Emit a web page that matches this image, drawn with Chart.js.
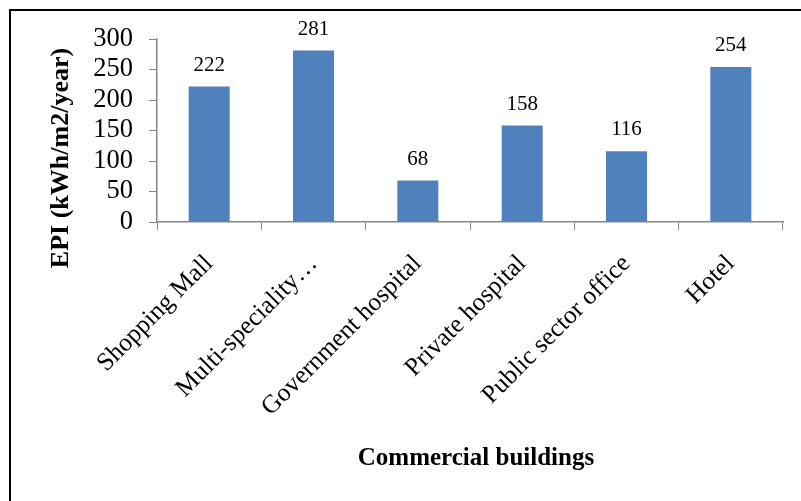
<!DOCTYPE html>
<html>
<head>
<meta charset="utf-8">
<script src="https://cdn.jsdelivr.net/npm/chart.js@4"></script>
<style>
  html, body { margin: 0; padding: 0; background: #ffffff; }
  canvas { display: block; }
</style>
</head>
<body>
<canvas id="chart" width="801" height="501"></canvas>
<script>
// Energy performance index of commercial building types
const categories = ['Shopping Mall', 'Multi-speciality…', 'Government hospital', 'Private hospital', 'Public sector office', 'Hotel'];
const epiValues = [222, 281, 68, 158, 116, 254];
const yTickValues = [0, 50, 100, 150, 200, 250, 300];
const yAxisTitle = 'EPI (kWh/m2/year)';
const xAxisTitle = 'Commercial buildings';

const SERIF = '"Liberation Serif", "Times New Roman", serif';
const AXIS_GREY = '#868686';
const BAR_BLUE = '#4F81BD';

// White page with a dark frame around the figure
const framePlugin = {
  id: 'frame',
  beforeDraw(chart) {
    const ctx = chart.ctx;
    ctx.save();
    ctx.fillStyle = '#ffffff';
    ctx.fillRect(0, 0, chart.width, chart.height);
    ctx.strokeStyle = '#000000';
    ctx.lineWidth = 2;
    ctx.strokeRect(10, 10, 800, 500);
    ctx.restore();
  }
};

// Value printed above each bar
const valueLabelPlugin = {
  id: 'valueLabels',
  afterDatasetsDraw(chart) {
    const ctx = chart.ctx;
    const meta = chart.getDatasetMeta(0);
    const values = chart.data.datasets[0].data;
    ctx.save();
    ctx.font = '21px ' + SERIF;
    ctx.fillStyle = '#000000';
    ctx.textAlign = 'center';
    ctx.textBaseline = 'alphabetic';
    meta.data.forEach((bar, i) => {
      ctx.fillText(String(values[i]), bar.x, bar.y - 16);
    });
    ctx.restore();
  }
};

// Axis titles, placed relative to the plot like the office-style layout
const axisTitlePlugin = {
  id: 'axisTitles',
  afterDraw(chart) {
    const ctx = chart.ctx;
    ctx.save();
    ctx.fillStyle = '#000000';
    ctx.textAlign = 'center';
    ctx.font = 'bold 26px ' + SERIF;
    ctx.textBaseline = 'middle';
    ctx.translate(61, 158);
    ctx.rotate(-Math.PI / 2);
    ctx.fillText(yAxisTitle, 0, 0);
    ctx.restore();

    ctx.save();
    ctx.fillStyle = '#000000';
    ctx.textAlign = 'center';
    ctx.textBaseline = 'alphabetic';
    ctx.font = 'bold 25px ' + SERIF;
    ctx.fillText(xAxisTitle, 476, 465);
    ctx.restore();
  }
};

new Chart(document.getElementById('chart'), {
  type: 'bar',
  data: {
    labels: categories,
    datasets: [{
      data: epiValues,
      backgroundColor: BAR_BLUE,
      borderWidth: 0,
      barPercentage: 0.393,
      categoryPercentage: 1.0
    }]
  },
  options: {
    responsive: false,
    animation: false,
    devicePixelRatio: 1,
    layout: { padding: { top: 39, right: 18, bottom: 0, left: 0 } },
    plugins: {
      legend: { display: false },
      tooltip: { enabled: false },
      title: { display: false }
    },
    scales: {
      x: {
        offset: true,
        grid: {
          offset: true,
          drawOnChartArea: false,
          drawTicks: true,
          tickLength: 8,
          color: AXIS_GREY
        },
        border: { display: true, color: AXIS_GREY, width: 1.5 },
        ticks: {
          color: '#000000',
          font: { family: SERIF, size: 25.5 },
          minRotation: 45,
          maxRotation: 45,
          autoSkip: false,
          padding: 19
        },
        afterFit(scale) { scale.height = 279; }
      },
      y: {
        min: 0,
        max: 300,
        afterBuildTicks(scale) {
          scale.ticks = yTickValues.map(v => ({ value: v }));
        },
        grid: {
          drawOnChartArea: false,
          drawTicks: true,
          tickLength: 8,
          color: AXIS_GREY
        },
        border: { display: true, color: AXIS_GREY, width: 1.5 },
        ticks: {
          color: '#000000',
          font: { family: SERIF, size: 26.5 },
          autoSkip: false,
          padding: 16
        },
        afterFit(scale) { scale.width = 157; }
      }
    }
  },
  plugins: [framePlugin, valueLabelPlugin, axisTitlePlugin]
});
</script>
</body>
</html>
